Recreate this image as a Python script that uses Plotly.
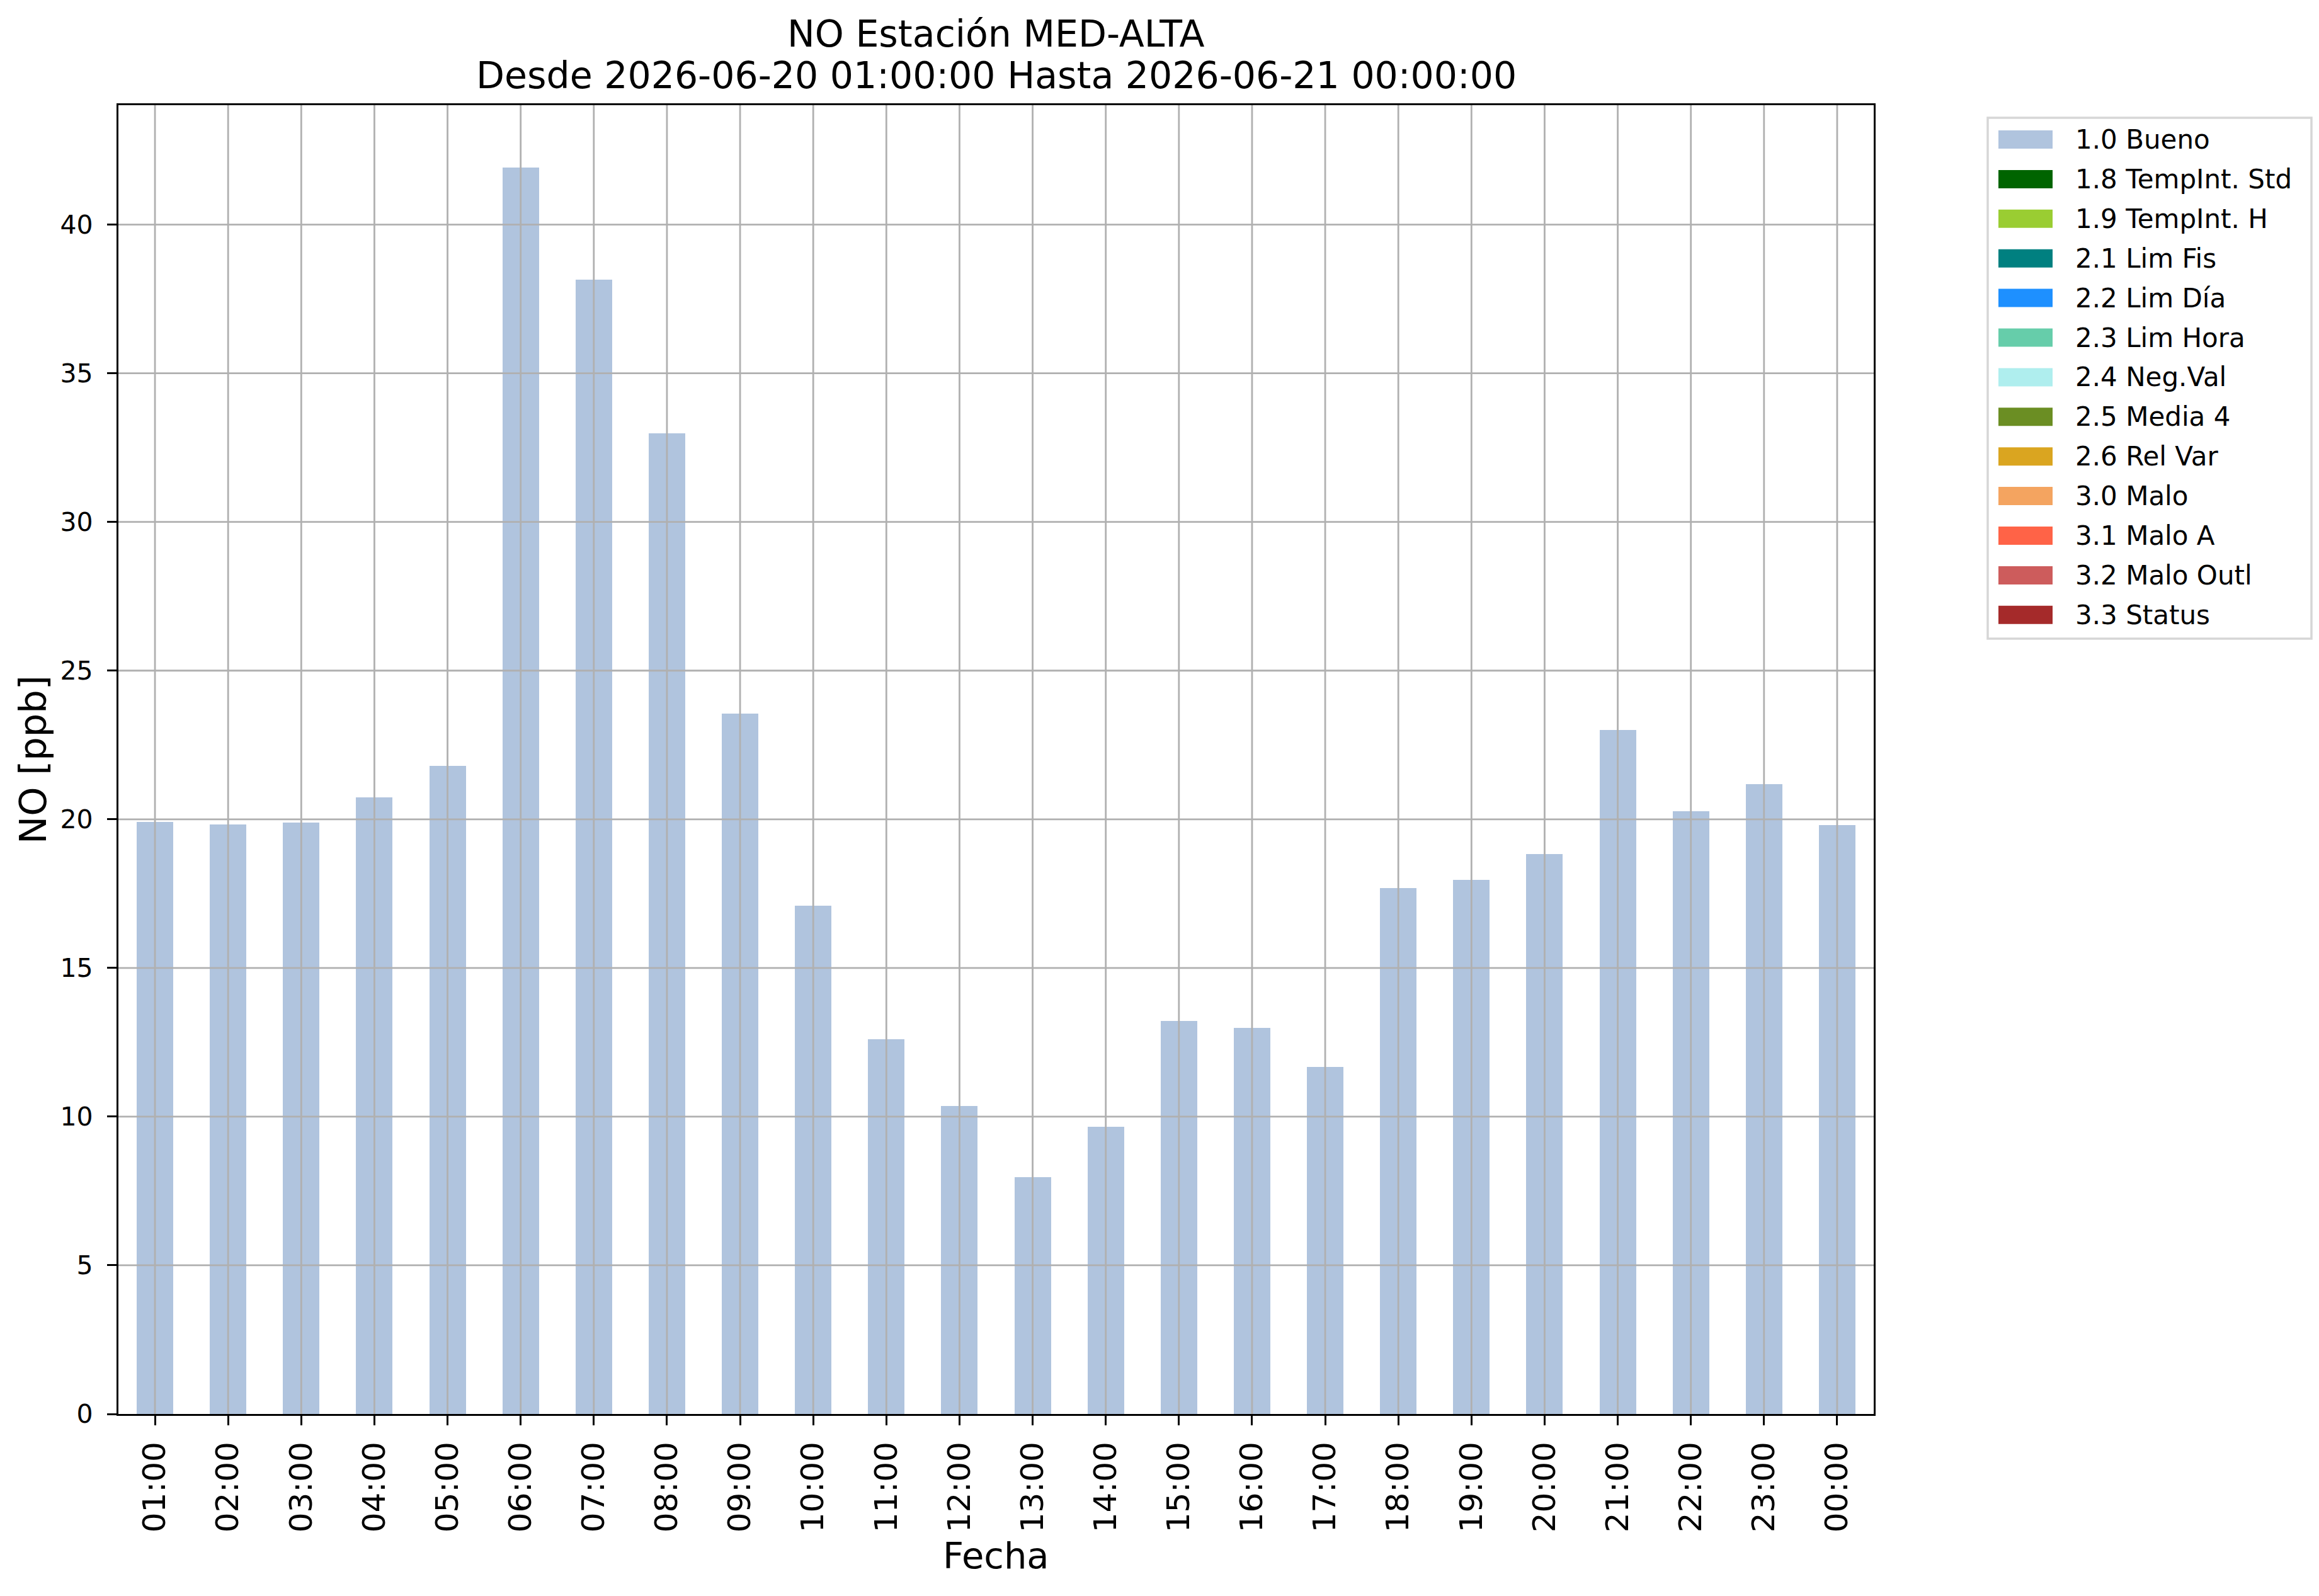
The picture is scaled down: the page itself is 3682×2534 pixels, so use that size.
import plotly.graph_objects as go

# ---------------- data ----------------
hours = ["01:00", "02:00", "03:00", "04:00", "05:00", "06:00", "07:00", "08:00",
         "09:00", "10:00", "11:00", "12:00", "13:00", "14:00", "15:00", "16:00",
         "17:00", "18:00", "19:00", "20:00", "21:00", "22:00", "23:00", "00:00"]

bueno = [19.92, 19.82, 19.88, 20.73, 21.79, 41.92, 38.14, 32.98,
         23.55, 17.10, 12.61, 10.36, 7.96, 9.66, 13.22, 12.99,
         11.67, 17.68, 17.96, 18.83, 23.01, 20.28, 21.19, 19.81]

flag_names = ["1.0 Bueno", "1.8 TempInt. Std", "1.9 TempInt. H", "2.1 Lim Fis",
              "2.2 Lim Día", "2.3 Lim Hora", "2.4 Neg.Val", "2.5 Media 4",
              "2.6 Rel Var", "3.0 Malo", "3.1 Malo A", "3.2 Malo Outl", "3.3 Status"]
flag_colors = ["#B0C4DE", "#006400", "#9ACD32", "#008080", "#1E90FF", "#66CDAA",
               "#AFEEEE", "#6B8E23", "#DAA520", "#F4A460", "#FF6347", "#CD5C5C",
               "#A52A2A"]
zeros = [0.0] * len(hours)
series = [bueno] + [zeros for _ in flag_names[1:]]

yticks = [0, 5, 10, 15, 20, 25, 30, 35, 40]

title1 = "NO Estación MED-ALTA"
title2 = "Desde 2026-06-20 01:00:00 Hasta 2026-06-21 00:00:00"
xlabel = "Fecha"
ylabel = "NO [ppb]"

# ---------------- layout constants (pixels) ----------------
W, H = 3682, 2534
L, R, T, B = 188, 2975, 167, 2245
PW, PH = R - L, B - T
FONT = "DejaVu Sans"


def px_x(X):
    return (X - L) / PW


def px_y(Y):
    return (B - Y) / PH


fig = go.Figure()
for name, color, vals in zip(flag_names, flag_colors, series):
    fig.add_trace(go.Bar(x=hours, y=vals, name=name, width=0.5,
                         marker=dict(color=color, line=dict(width=0)),
                         showlegend=False))

totals = [sum(v) for v in zip(*series)]
ymax = max(totals) * 1.05

shapes = []
# grid lines drawn above bars (matplotlib style)
for h in hours:
    shapes.append(dict(type="line", xref="x", yref="paper", x0=h, x1=h, y0=0, y1=1,
                       line=dict(color="#b0b0b0", width=2.8), layer="above"))
for v in yticks[1:]:
    shapes.append(dict(type="line", xref="paper", yref="y", x0=0, x1=1, y0=v, y1=v,
                       line=dict(color="#b0b0b0", width=2.8), layer="above"))

annotations = [
    dict(text=title1, xref="paper", yref="paper", x=0.5, y=px_y(53.5),
         xanchor="center", yanchor="middle", showarrow=False,
         font=dict(family=FONT, size=58.5, color="black")),
    dict(text=title2, xref="paper", yref="paper", x=0.5, y=px_y(120),
         xanchor="center", yanchor="middle", showarrow=False,
         font=dict(family=FONT, size=58.5, color="black")),
    dict(text=xlabel, xref="paper", yref="paper", x=0.5, y=px_y(2470),
         xanchor="center", yanchor="middle", showarrow=False,
         font=dict(family=FONT, size=57.5, color="black")),
    dict(text=ylabel, xref="paper", yref="paper", x=px_x(52), y=0.5,
         xanchor="center", yanchor="middle", showarrow=False, textangle=-90,
         font=dict(family=FONT, size=59, color="black")),
]

# custom legend (matplotlib look)
shapes.append(dict(type="rect", xref="paper", yref="paper",
                   x0=px_x(3156), x1=px_x(3670), y0=px_y(1014), y1=px_y(187),
                   line=dict(color="#d6d6d6", width=3.5), fillcolor="white",
                   layer="above"))
row0, dy = 221.5, 62.9
for i, (name, color) in enumerate(zip(flag_names, flag_colors)):
    cy = row0 + dy * i
    shapes.append(dict(type="rect", xref="paper", yref="paper",
                       x0=px_x(3173), x1=px_x(3259),
                       y0=px_y(cy + 14.5), y1=px_y(cy - 14.5),
                       line=dict(width=0), fillcolor=color, layer="above"))
    annotations.append(dict(text=name, xref="paper", yref="paper",
                            x=px_x(3293), y=px_y(cy), xanchor="left",
                            yanchor="middle", showarrow=False,
                            font=dict(family=FONT, size=42, color="black")))

fig.update_layout(
    width=W, height=H,
    margin=dict(l=L, r=W - R, t=T, b=H - B, pad=0, autoexpand=False),
    paper_bgcolor="white", plot_bgcolor="white",
    barmode="stack",
    showlegend=False,
    font=dict(family=FONT, color="black"),
    shapes=shapes,
    annotations=annotations,
)

fig.update_xaxes(
    type="category", range=[-0.5, len(hours) - 0.5],
    showgrid=False, zeroline=False,
    showline=True, linecolor="black", linewidth=3.3, mirror=True,
    ticks="outside", ticklen=15, tickwidth=3.3, tickcolor="black",
    tickangle=-90, tickfont=dict(family=FONT, size=50, color="black"),
    ticklabelstandoff=6,
)
fig.update_yaxes(
    range=[0, ymax], tickvals=yticks, ticktext=[str(v) for v in yticks],
    showgrid=False, zeroline=False,
    showline=True, linecolor="black", linewidth=3.3, mirror=True,
    ticks="outside", ticklen=15, tickwidth=3.3, tickcolor="black",
    tickfont=dict(family=FONT, size=41, color="black"),
    ticklabelstandoff=14,
)

fig.write_html("out.html",
               config={"displayModeBar": False},
               post_script="document.body.style.margin='0';"
                           "document.body.style.padding='0';")
